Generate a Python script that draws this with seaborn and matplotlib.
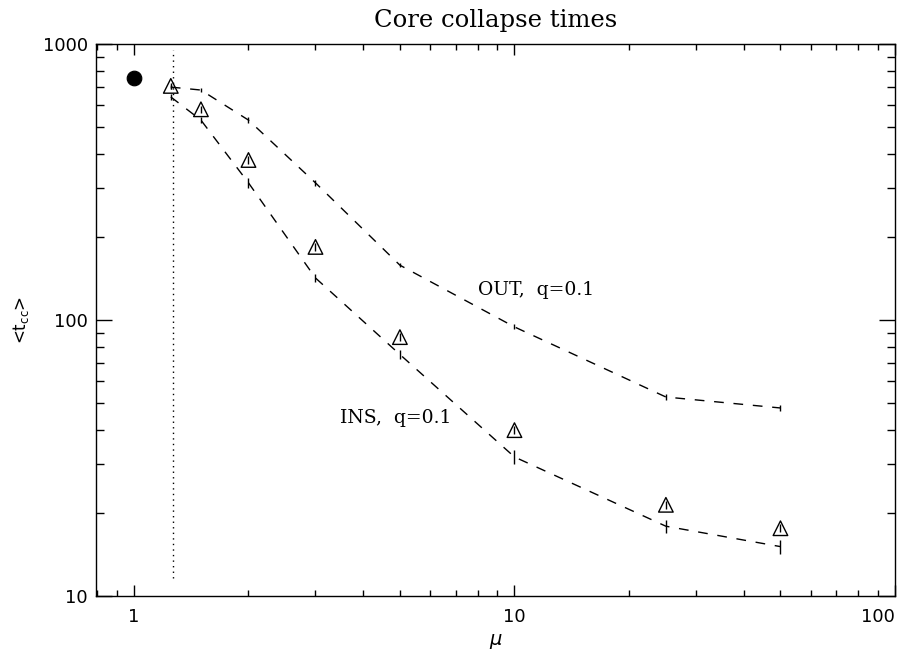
import numpy as np
import pandas as pd
import matplotlib
matplotlib.use("Agg")
import matplotlib.pyplot as plt
import seaborn as sns
from matplotlib.ticker import LogLocator, NullFormatter, FixedLocator, FixedFormatter

# ---- data ----
mu_out = [1.25, 1.5, 2, 3, 5, 10, 25, 50]
t_out = [698, 681, 530, 314, 158, 94.4, 52.6, 48.0]
err_out = [10, 12, 12, 7, 3, 2.0, 1.2, 1.2]

mu_ins = [1.25, 1.5, 2, 3, 5, 10, 25, 50]
t_ins = [643, 530, 314, 142, 75, 31.9, 17.9, 15.1]
err_ins = [15, 12, 12, 5, 3, 1.9, 1.0, 0.9]

mu_tri = [1.25, 1.5, 2, 3, 5, 10, 25, 50]
t_tri = [705, 580, 380, 184, 86.7, 39.9, 21.4, 17.6]
err_tri = [20, 18, 12, 6, 3, 1.3, 0.7, 0.6]

mu_single = [1.0]
t_single = [753]

vline_mu = 1.27
vline_range = [11.6, 950]

xticks = [1, 10, 100]
xticklabels = ["1", "10", "100"]
yticks = [10, 100, 1000]
yticklabels = ["10", "100", "1000"]

# ---- figure ----
sns.set_style("ticks")
plt.rcParams["font.family"] = ["DejaVu Sans"]
plt.rcParams["text.color"] = "black"
plt.rcParams["axes.labelcolor"] = "black"
plt.rcParams["xtick.color"] = "black"
plt.rcParams["ytick.color"] = "black"
plt.rcParams["xtick.labelcolor"] = "black"
plt.rcParams["ytick.labelcolor"] = "black"

fig = plt.figure(figsize=(9.21, 6.62), dpi=100)
ax = fig.add_axes([96/921, 1-596/662, (895-96)/921, (596-44)/662])

df_out = pd.DataFrame({"mu": mu_out, "t": t_out})
df_ins = pd.DataFrame({"mu": mu_ins, "t": t_ins})
df_tri = pd.DataFrame({"mu": mu_tri, "t": t_tri})
df_single = pd.DataFrame({"mu": mu_single, "t": t_single})

dash = (0, (7, 7))
sns.lineplot(data=df_out, x="mu", y="t", ax=ax, color="black", lw=1.0,
             linestyle=dash, sort=False)
sns.lineplot(data=df_ins, x="mu", y="t", ax=ax, color="black", lw=1.0,
             linestyle=dash, sort=False)
ax.errorbar(mu_out, t_out, yerr=err_out, fmt="none", ecolor="black", elinewidth=1.0, capsize=0)
ax.errorbar(mu_ins, t_ins, yerr=err_ins, fmt="none", ecolor="black", elinewidth=1.0, capsize=0)

sns.scatterplot(data=df_tri, x="mu", y="t", ax=ax, marker="^", s=110,
                facecolor="none", edgecolor="black", linewidth=1.0, zorder=3)
ax.errorbar(mu_tri, t_tri, yerr=err_tri, fmt="none", ecolor="black", elinewidth=1.0, capsize=0)

sns.scatterplot(data=df_single, x="mu", y="t", ax=ax, marker="o", s=110,
                color="black", edgecolor="black", zorder=3)

ax.plot([vline_mu, vline_mu], vline_range, color="black", lw=1.0, linestyle=(0, (1, 3)))

ax.text(8.0, 128, "OUT,  q=0.1", family="DejaVu Serif", fontsize=13.5, va="center", ha="left")
ax.text(3.49, 44, "INS,  q=0.1", family="DejaVu Serif", fontsize=13.5, va="center", ha="left")

ax.set_xscale("log")
ax.set_yscale("log")
ax.set_xlim(0.795, 100)
ax.set_ylim(10, 1000)

ax.xaxis.set_major_locator(FixedLocator(xticks))
ax.xaxis.set_major_formatter(FixedFormatter(xticklabels))
ax.yaxis.set_major_locator(FixedLocator(yticks))
ax.yaxis.set_major_formatter(FixedFormatter(yticklabels))
ax.xaxis.set_minor_locator(LogLocator(base=10, subs=np.arange(2, 10)))
ax.yaxis.set_minor_locator(LogLocator(base=10, subs=np.arange(2, 10)))
ax.xaxis.set_minor_formatter(NullFormatter())
ax.yaxis.set_minor_formatter(NullFormatter())

ax.tick_params(which="both", direction="in", top=True, right=True, color="black", width=1.0)
ax.tick_params(axis="x", which="major", length=8, labelsize=13, pad=9)
ax.tick_params(axis="x", which="minor", length=4)
ax.tick_params(axis="y", which="major", length=11.5, labelsize=13, pad=6)
ax.tick_params(axis="y", which="minor", length=5.8)
for sp in ax.spines.values():
    sp.set_linewidth(1.0)
    sp.set_color("black")

fig.canvas.draw()
xt_labels = ax.get_xticklabels()
xt_labels[-1].set_horizontalalignment("right")

ax.set_xlabel(r"$\mu$", fontsize=14, labelpad=4)
ax.set_ylabel(r"<t$_{\rm cc}$>", fontsize=12, labelpad=8)
ax.set_title("Core collapse times", family="DejaVu Serif", fontsize=17.5, pad=12)

fig.savefig("out.png", dpi=100)
